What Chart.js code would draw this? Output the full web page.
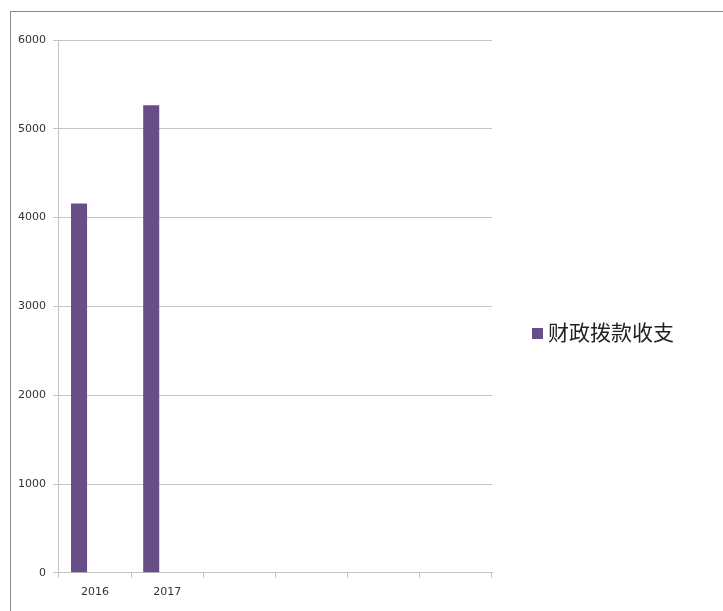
<!DOCTYPE html>
<html>
<head>
<meta charset="utf-8">
<script src="https://cdn.jsdelivr.net/npm/chart.js@4/dist/chart.umd.min.js"></script>
<style>
  html, body { margin: 0; padding: 0; background: #fff; }
  #wrap { position: relative; width: 723px; height: 611px; overflow: hidden; }
  #frame {
    position: absolute; left: 10px; top: 11px; right: -5px; bottom: -5px;
    border-left: 1px solid #8a8a8a; border-top: 1px solid #8a8a8a;
  }
  #chart { position: absolute; left: 0; top: 0; }
  #legend {
    position: absolute; left: 532px; top: 316px;
    font-family: "Noto Sans CJK SC", "Noto Sans", sans-serif; font-size: 21px; line-height: 30px;
    color: #222; white-space: nowrap;
  }
  #legend .box { display: inline-block; width: 11px; height: 11px; margin-right: 5px; vertical-align: 1px; }
</style>
</head>
<body>
<div id="wrap">
  <div id="frame"></div>
  <canvas id="chart" width="723" height="611"></canvas>
  <div id="legend"></div>
</div>
<script>
// categories (six slots, only the first two carry labels)
const years = ['2016', '2017', '', '', '', ''];
// 财政拨款收支
const seriesName = '财政拨款收支';
const fiscalValues = [4160, 5265, null, null, null, null];
// the original sheet has two more series with no data
const emptySeries = [null, null, null, null, null, null];

const barColor = '#674e87';
const gridColor = '#c4c4c4';

const chart = new Chart(document.getElementById('chart'), {
  type: 'bar',
  data: {
    labels: years,
    datasets: [
      { label: seriesName, data: fiscalValues, backgroundColor: barColor },
      { label: '', data: emptySeries, backgroundColor: barColor },
      { label: '', data: emptySeries, backgroundColor: barColor }
    ]
  },
  options: {
    responsive: false,
    animation: false,
    layout: { padding: { left: 11, top: 40, right: 231, bottom: 4 } },
    datasets: { bar: { categoryPercentage: 3 / 4.5, barPercentage: 1 } },
    plugins: {
      tooltip: { enabled: false },
      legend: { display: false }
    },
    scales: {
      x: {
        grid: { offset: true, drawOnChartArea: false, drawTicks: true, tickLength: 5, color: gridColor },
        border: { color: gridColor },
        ticks: {
          padding: 8,
          color: '#333',
          font: { family: '"DejaVu Sans", sans-serif', size: 11 }
        }
      },
      y: {
        min: 0,
        max: 6000,
        grid: { color: gridColor, tickLength: 6 },
        border: { color: gridColor },
        ticks: {
          stepSize: 1000,
          padding: 7,
          color: '#333',
          font: { family: '"DejaVu Sans", sans-serif', size: 11 },
          callback: v => String(v)
        }
      }
    }
  }
});

// legend built from the first dataset
const ds = chart.data.datasets[0];
document.getElementById('legend').innerHTML =
  `<span class="box" style="background:${ds.backgroundColor}"></span>${ds.label}`;
</script>
</body>
</html>
